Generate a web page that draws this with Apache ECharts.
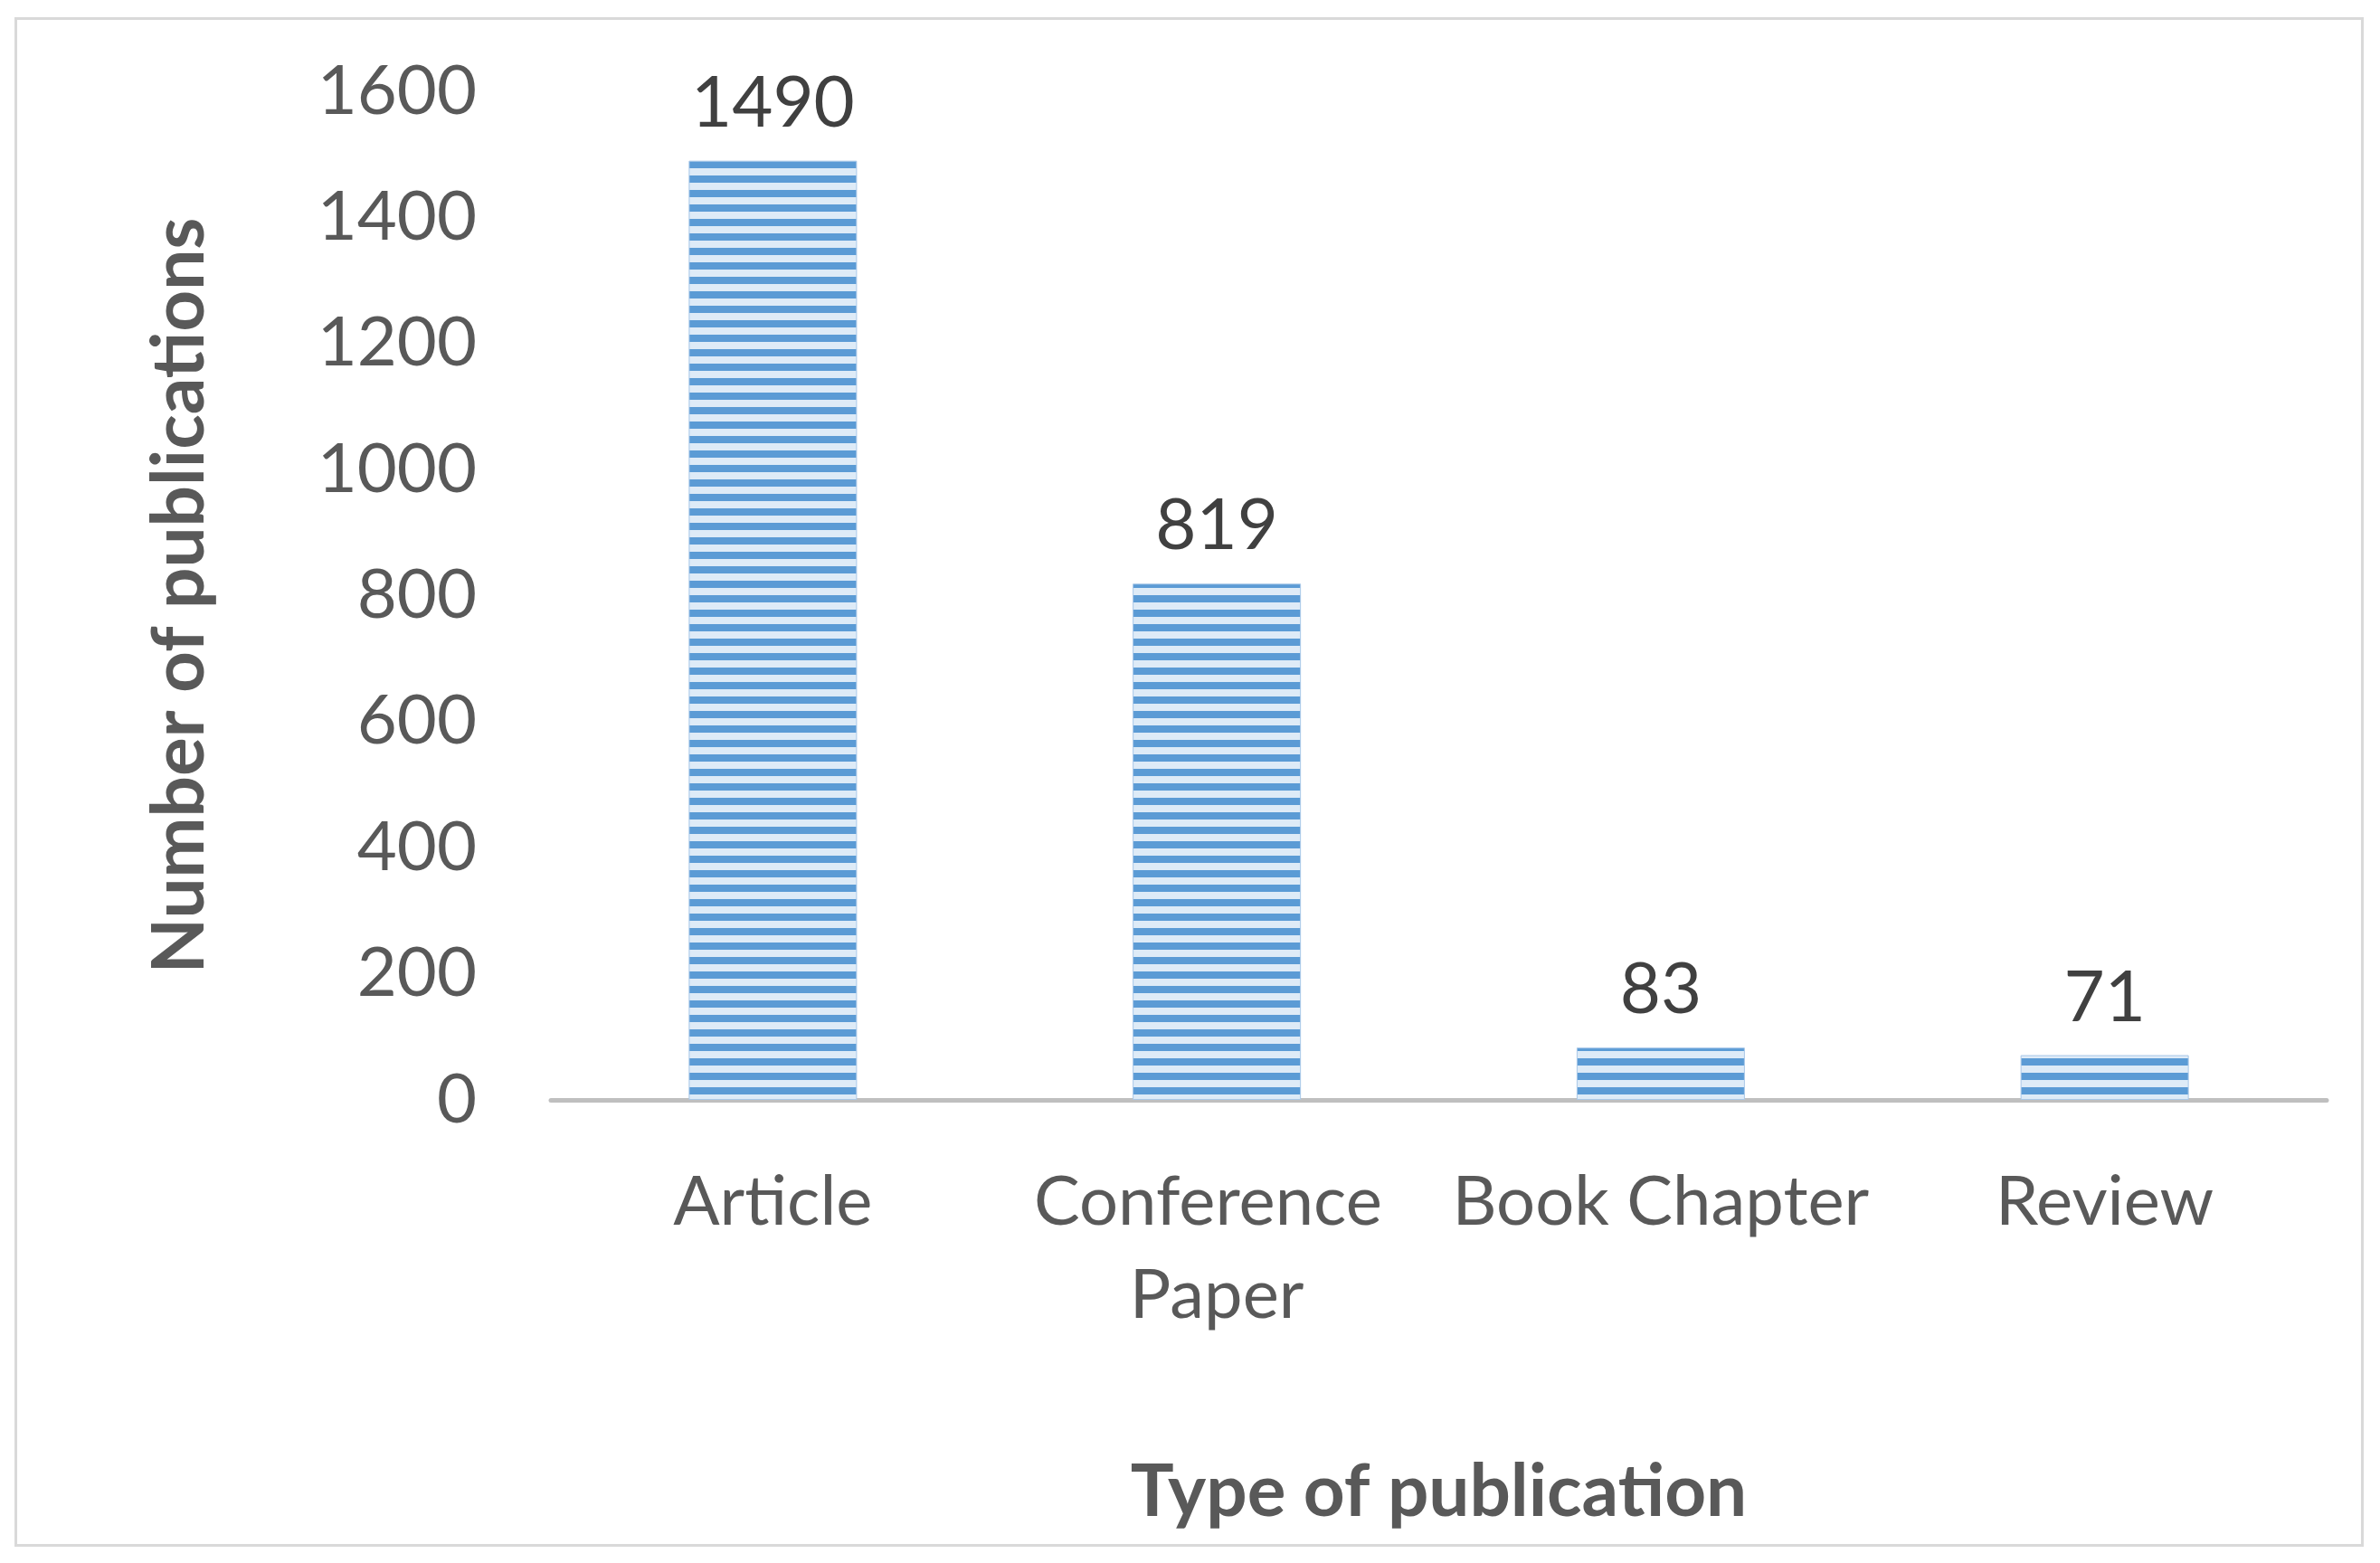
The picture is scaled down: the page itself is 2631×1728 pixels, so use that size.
<!DOCTYPE html>
<html>
<head>
<meta charset="utf-8">
<script src="https://cdn.jsdelivr.net/npm/echarts@6/dist/echarts.min.js"></script>
<style>html,body{margin:0;padding:0;background:#fff;}#chart{width:2631px;height:1728px;}</style>
</head>
<body>
<div id="chart"></div>
<script>
const categories = ['Article', 'Conference Paper', 'Book Chapter', 'Review'];
const publications = [1490, 819, 83, 71];
const yTicks = { min: 0, max: 1600, interval: 200 };

const FONT = 'Lato, "Open Sans", "Liberation Sans", sans-serif';

function stripePattern() {
  const c = document.createElement('canvas');
  c.width = 16; c.height = 16;
  const g = c.getContext('2d');
  g.fillStyle = '#DEEBF7'; g.fillRect(0, 0, 16, 16);
  g.fillStyle = '#5B9BD5'; g.fillRect(0, 2, 16, 8);
  return c;
}

const chart = echarts.init(document.getElementById('chart'), null, { renderer: 'canvas' });
chart.setOption({
  backgroundColor: '#ffffff',
  animation: false,
  graphic: [{
    type: 'rect', silent: true, z: -1,
    shape: { x: 17.5, y: 20.5, width: 2594, height: 1688 },
    style: { fill: 'none', stroke: '#D9D9D9', lineWidth: 3 }
  }],
  grid: { left: 609, right: 59, top: 101, bottom: 512, containLabel: false },
  xAxis: {
    type: 'category',
    data: categories,
    axisLine: { show: true, lineStyle: { color: '#BFBFBF', width: 5 } },
    axisTick: { show: false },
    axisLabel: {
      fontFamily: FONT, fontSize: 76, color: '#595959', margin: 62,
      lineHeight: 103, width: 488, overflow: 'break', interval: 0
    },
    name: 'Type of publication',
    nameLocation: 'middle',
    nameGap: 394,
    nameTextStyle: { fontFamily: FONT, fontSize: 80, fontWeight: 'bold', color: '#595959' }
  },
  yAxis: {
    type: 'value',
    min: yTicks.min, max: yTicks.max, interval: yTicks.interval,
    axisLine: { show: false },
    axisTick: { show: false },
    splitLine: { show: false },
    axisLabel: {
      fontFamily: FONT, fontSize: 76, color: '#595959', margin: 82,
      formatter: function (v) { return String(v); }
    },
    name: 'Number of publications',
    nameLocation: 'middle',
    nameGap: 370,
    nameRotate: 90,
    nameTextStyle: { fontFamily: FONT, fontSize: 80, fontWeight: 'bold', color: '#595959' }
  },
  series: [{
    type: 'bar',
    data: publications,
    barWidth: 186,
    itemStyle: {
      color: { image: stripePattern(), repeat: 'repeat' },
      borderColor: '#A9C8E8', borderWidth: 1
    },
    label: {
      show: true, position: 'top', distance: 24,
      fontFamily: FONT, fontSize: 78, color: '#404040'
    }
  }]
});
</script>
</body>
</html>
